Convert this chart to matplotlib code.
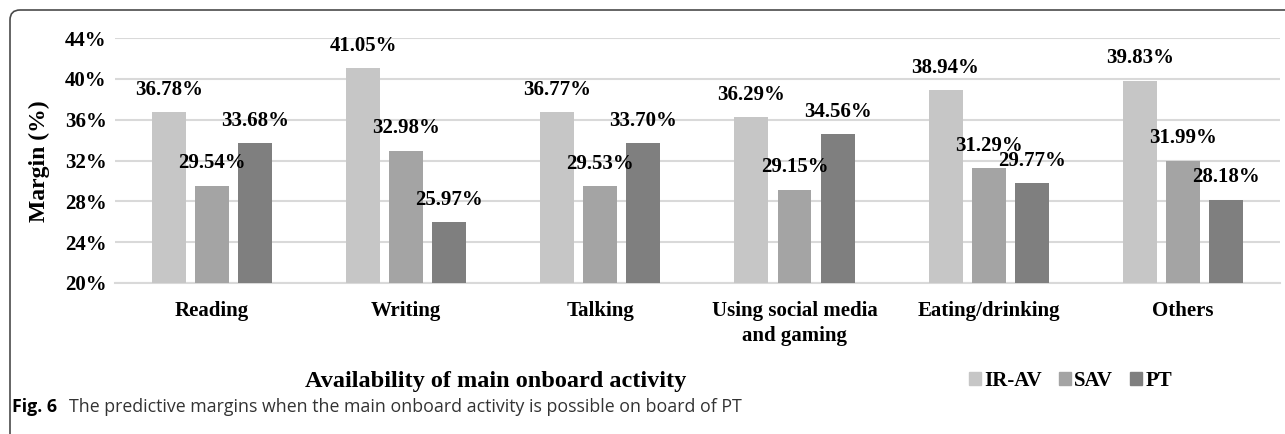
import numpy as np
import matplotlib.pyplot as plt
from matplotlib.patches import FancyBboxPatch, Patch
from matplotlib.transforms import IdentityTransform

activities = ['Reading', 'Writing', 'Talking', 'Using social media\nand gaming',
              'Eating/drinking', 'Others']
series = ['IR-AV', 'SAV', 'PT']
ir_av = [36.78, 41.05, 36.77, 36.29, 38.94, 39.83]
sav = [29.54, 32.98, 29.53, 29.15, 31.29, 31.99]
pt = [33.68, 25.97, 33.70, 34.56, 29.77, 28.18]
colors = ['#c6c6c6', '#a4a4a4', '#7f7f7f']

serif = 'Liberation Serif'

fig = plt.figure(figsize=(12.85, 4.34), dpi=100)
ax = fig.add_axes([0.0895, 0.348, 0.9065, 0.564])

x = np.arange(len(activities))
w = 0.175
step = 0.222
for k, (vals, c) in enumerate(zip([ir_av, sav, pt], colors)):
    pos = x + (k - 1) * step
    ax.bar(pos, np.array(vals) - 20, width=w, bottom=20, color=c, zorder=3)
    for px, v in zip(pos, vals):
        ax.annotate(f'{v:.2f}%', (px, v), xytext=(0, 16), textcoords='offset points',
                    ha='center', va='center', fontsize=15, fontweight='bold',
                    family=serif, zorder=4)

ax.set_xlim(-0.5, len(activities) - 0.5)
ax.set_ylim(20, 44)
ax.set_yticks(np.arange(20, 45, 4))
ax.set_yticklabels([f'{t}%' for t in range(20, 45, 4)], fontsize=15,
                   fontweight='bold', family=serif)
ax.set_xticks(x)
ax.set_xticklabels(activities, fontsize=15, fontweight='bold', family=serif,
                   linespacing=1.3)
ax.tick_params(axis='both', length=0)
ax.tick_params(axis='x', pad=13)
ax.tick_params(axis='y', pad=6)
ax.grid(axis='y', color='#d9d9d9', lw=1.5, zorder=0)
for s in ['top', 'right', 'left']:
    ax.spines[s].set_visible(False)
ax.spines['bottom'].set_color('#d9d9d9')
ax.spines['bottom'].set_linewidth(1.5)

fig.text(0.031, 0.629, 'Margin (%)', rotation=90, ha='center', va='center',
         fontsize=17, fontweight='bold', family=serif)
fig.text(0.386, 0.122, 'Availability of main onboard activity', ha='center',
         va='center', fontsize=17.5, fontweight='bold', family=serif)

handles = [Patch(color=c, label=s) for c, s in zip(colors, series)]
leg = fig.legend(handles=handles, loc='center', bbox_to_anchor=(0.833, 0.122),
                 ncol=3, frameon=False, handlelength=0.6, handleheight=0.6,
                 handletextpad=0.15, columnspacing=0.8,
                 prop={'family': serif, 'weight': 'bold', 'size': 15})

# caption under the chart
fig.text(0.009, 0.062, 'Fig. 6', fontsize=12.8, fontweight='bold',
         family='Open Sans', va='center')
fig.text(0.054, 0.062, 'The predictive margins when the main onboard activity is '
         'possible on board of PT', fontsize=12.8, family='Open Sans', va='center',
         color='#333333')

# rounded frame around the figure
frame = FancyBboxPatch((10, -20), 1300, 444, boxstyle='round,pad=0,rounding_size=10',
                       transform=IdentityTransform(), fill=False, ec='#4a4a4a', lw=1.2)
fig.add_artist(frame)

fig.savefig('out.png', dpi=100)
